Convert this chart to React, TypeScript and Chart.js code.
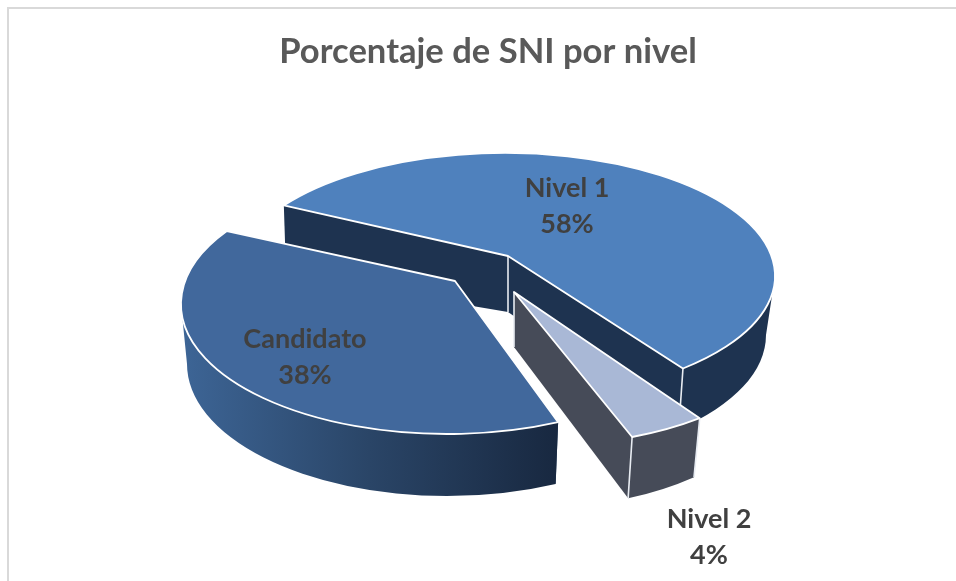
import React, { useEffect, useRef } from "react";
import { Chart, registerables } from "chart.js";

Chart.register(...registerables);

const categories = ["Nivel 1", "Nivel 2", "Candidato"];
const shares = [58, 4, 38];
const titleText = "Porcentaje de SNI por nivel";
const sliceColors = ["#4f81bd", "#a9b8d6", "#41689c"];
const wallColors = ["#1e3350", "#464b58", "#2a4567"];
const FONT = "Lato, 'Open Sans', sans-serif";

// Projection of each pie slice (styling of the pseudo-3D look; extents come from the library's arc angles)
type Ellipse = { cx: number; cy: number; rx: number; ry: number };
type Proj = {
  apex: [number, number];
  apexB: [number, number];
  top: Ellipse;
  bottom: Ellipse;
  rimStart: number;
  stretch: number;
  cutShift: number;
  label: [number, number];
};
const projections: Proj[] = [
  { apex: [508, 256], apexB: [508, 312], top: { cx: 505, cy: 276, rx: 270, ry: 123 }, bottom: { cx: 510, cy: 335, rx: 256, ry: 125 }, rimStart: -55, stretch: 0.928, cutShift: -6, label: [567, 206] },
  { apex: [514, 292], apexB: [514, 347], top: { cx: 554, cy: 274, rx: 275, ry: 170 }, bottom: { cx: 552, cy: 316, rx: 268, ry: 190 }, rimStart: 148, stretch: 1.076, cutShift: 0, label: [709, 537] },
  { apex: [455, 281], apexB: [455, 344], top: { cx: 447, cy: 304, rx: 266, ry: 130 }, bottom: { cx: 447, cy: 364, rx: 260, ry: 132 }, rimStart: 155.3, stretch: 1.088, cutShift: 0, label: [305, 357] },
];
const drawOrder = [0, 2, 1];

const rad = (d: number) => (d * Math.PI) / 180;
const pt = (e: Ellipse, a: number): [number, number] => [e.cx + e.rx * Math.cos(a), e.cy + e.ry * Math.sin(a)];

const pie3d = {
  id: "pie3d",
  beforeDraw(chart: any) {
    const { ctx, width, height } = chart;
    ctx.save();
    ctx.fillStyle = "#ffffff";
    ctx.fillRect(0, 0, width, height);
    ctx.strokeStyle = "#d9d9d9";
    ctx.lineWidth = 2;
    ctx.beginPath();
    ctx.moveTo(8, height);
    ctx.lineTo(8, 8);
    ctx.lineTo(width, 8);
    ctx.stroke();
    ctx.restore();
  },
  beforeDatasetsDraw(chart: any) {
    const { ctx } = chart;
    const meta = chart.getDatasetMeta(0);
    ctx.save();
    ctx.lineJoin = "round";
    for (const i of drawOrder) {
      const arc = meta.data[i];
      const p = projections[i];
      const extent = ((arc.endAngle - arc.startAngle) * 180) / Math.PI;
      const a0 = rad(p.rimStart - 90);
      const a1 = rad(p.rimStart - 90 + extent * p.stretch);
      const t0 = pt(p.top, a0), t1 = pt(p.top, a1), b0 = pt(p.bottom, a0 + rad(p.cutShift)), b1 = pt(p.bottom, a1);
      const wall = wallColors[i];

      // cut faces
      ctx.fillStyle = wall;
      for (const [t, b] of [[t0, b0], [t1, b1]]) {
        ctx.beginPath();
        ctx.moveTo(p.apex[0], p.apex[1]);
        ctx.lineTo(t[0], t[1]);
        ctx.lineTo(b[0], b[1]);
        ctx.lineTo(p.apexB[0], p.apexB[1]);
        ctx.closePath();
        ctx.fill();
      }

      // rim face (front half only)
      const w0 = Math.max(a0, 0), w1 = Math.min(a1, Math.PI);
      if (w1 > w0) {
        ctx.beginPath();
        ctx.ellipse(p.top.cx, p.top.cy, p.top.rx, p.top.ry, 0, w0, w1);
        ctx.ellipse(p.bottom.cx, p.bottom.cy, p.bottom.rx, p.bottom.ry, 0, w1, w0, true);
        ctx.closePath();
        if (i === 2) {
          const g = ctx.createLinearGradient(181, 0, 558, 0);
          g.addColorStop(0, "#3d6596");
          g.addColorStop(0.5, "#2a4567");
          g.addColorStop(1, "#182840");
          ctx.fillStyle = g;
        } else {
          ctx.fillStyle = wall;
        }
        ctx.fill();
      }

      // vertical highlight edges
      ctx.strokeStyle = "#e8ecf2";
      ctx.lineWidth = 1.6;
      ctx.beginPath();
      if (i !== 2) {
        ctx.moveTo(p.apex[0], p.apex[1]);
        ctx.lineTo(p.apexB[0], p.apexB[1]);
      }
      ctx.moveTo(t1[0], t1[1]);
      ctx.lineTo(b1[0], b1[1]);
      if (i === 1) {
        ctx.moveTo(t0[0], t0[1]);
        ctx.lineTo(b0[0], b0[1]);
      }
      ctx.stroke();

      // top face
      ctx.beginPath();
      ctx.moveTo(p.apex[0], p.apex[1]);
      ctx.ellipse(p.top.cx, p.top.cy, p.top.rx, p.top.ry, 0, a0, a1);
      ctx.closePath();
      ctx.fillStyle = sliceColors[i];
      ctx.fill();
      ctx.strokeStyle = "#ffffff";
      ctx.lineWidth = 1.8;
      ctx.stroke();
    }
    ctx.restore();
    return false;
  },
  afterDraw(chart: any) {
    const { ctx } = chart;
    ctx.save();
    ctx.fillStyle = "#404040";
    ctx.font = `bold 27px ${FONT}`;
    ctx.textAlign = "center";
    ctx.textBaseline = "middle";
    categories.forEach((c, i) => {
      const [x, y] = projections[i].label;
      ctx.fillText(c, x, y - 18);
      ctx.fillText(`${shares[i]}%`, x, y + 18);
    });
    ctx.restore();
  },
};

export default function App() {
  const ref = useRef<HTMLCanvasElement>(null);
  useEffect(() => {
    const chart = new Chart(ref.current as HTMLCanvasElement, {
      type: "pie",
      data: {
        labels: categories,
        datasets: [{ data: shares, backgroundColor: sliceColors, borderColor: "#ffffff" }],
      },
      options: {
        responsive: false,
        animation: false,
        rotation: -60,
        events: [],
        layout: { padding: { left: 20 } },
        plugins: {
          legend: { display: false },
          tooltip: { enabled: false },
          title: {
            display: true,
            text: titleText,
            color: "#595959",
            font: { family: FONT, size: 34.6, weight: "bold" },
            padding: { top: 31, bottom: 10 },
          },
        },
      },
      plugins: [pie3d],
    } as any);
    return () => chart.destroy();
  }, []);
  return (
    <div style={{ position: "fixed", left: 0, top: 0, width: 956, height: 581, overflow: "hidden" }}>
      <canvas ref={ref} width={956} height={581} style={{ display: "block" }} />
    </div>
  );
}
